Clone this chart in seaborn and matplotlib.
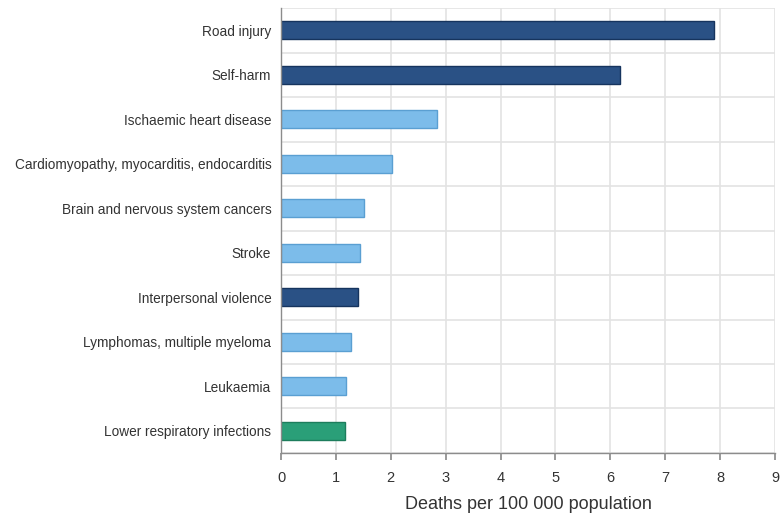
import numpy as np
import pandas as pd
import matplotlib
matplotlib.use('Agg')
import matplotlib.pyplot as plt
import seaborn as sns

# Dati
causes = ["Road injury", "Self-harm", "Ischaemic heart disease",
          "Cardiomyopathy, myocarditis, endocarditis",
          "Brain and nervous system cancers", "Stroke",
          "Interpersonal violence", "Lymphomas, multiple myeloma",
          "Leukaemia", "Lower respiratory infections"]
deaths = [7.88, 6.18, 2.84, 2.02, 1.51, 1.44, 1.40, 1.28, 1.18, 1.17]
groups = ["injury", "injury", "ncd", "ncd", "ncd", "ncd",
          "injury", "ncd", "ncd", "communicable"]

face = {"injury": "#2a5185", "ncd": "#7cbcea", "communicable": "#2a9f78"}
edge = {"injury": "#16345e", "ncd": "#5a9fd2", "communicable": "#1d7d5c"}

df = pd.DataFrame({"cause": causes, "deaths": deaths, "group": groups})

sns.set_theme(style="white")
plt.rcParams['font.family'] = ['Liberation Sans', 'DejaVu Sans']

fig = plt.figure(figsize=(7.81, 5.18), dpi=100)
ax = fig.add_axes([0.3598, 0.1255, 0.6325, 0.859])

sns.barplot(data=df, x="deaths", y="cause", hue="group", palette=face,
            saturation=1, dodge=False, width=0.4, legend=False, ax=ax)

# bordo del colore giusto per ogni barra (in base alla posizione y)
for patch in ax.patches:
    idx = int(round(patch.get_y() + patch.get_height() / 2))
    patch.set_edgecolor(edge[groups[idx]])
    patch.set_linewidth(1.0)

ax.set_xlim(0, 9)
ax.set_ylim(len(causes) - 0.5, -0.5)
ax.set_xticks(range(10))
ax.set_yticks(np.arange(-0.5, len(causes), 1.0), minor=True)

ax.grid(axis="x", which="major", color="#e3e3e3", linewidth=1.2)
ax.grid(axis="y", which="minor", color="#e3e3e3", linewidth=1.2)
ax.set_axisbelow(True)

for s in ["top", "right"]:
    ax.spines[s].set_visible(False)
for s in ["left", "bottom"]:
    ax.spines[s].set_color("#8c8c8c")
    ax.spines[s].set_linewidth(1.0)

ax.tick_params(axis="y", which="major", length=0, pad=7, labelsize=9.8,
               labelcolor="#333333")
ax.tick_params(axis="y", which="minor", length=5, color="#8c8c8c", direction="out")
ax.tick_params(axis="x", which="major", length=5, color="#8c8c8c", bottom=True,
               direction="out", pad=8, labelsize=10.5, labelcolor="#333333")

ax.set_ylabel("")
ax.set_xlabel("Deaths per 100 000 population", fontsize=13, color="#333333",
              labelpad=8)

fig.savefig("out.png", dpi=100)
plt.close(fig)
